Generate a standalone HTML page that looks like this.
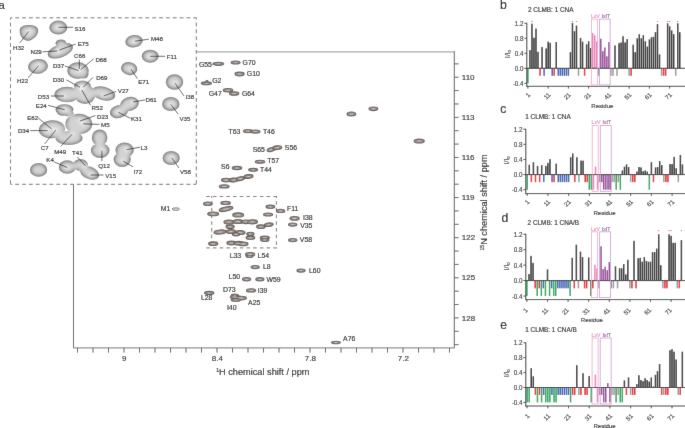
<!DOCTYPE html><html><head><meta charset="utf-8"><style>html,body{margin:0;padding:0;background:#fff;width:685px;height:428px;overflow:hidden}svg{display:block}text{font-family:"Liberation Sans", sans-serif;stroke-width:0.15px}</style></head><body>
<div id="w"><svg width="685" height="428" viewBox="0 0 685 428">
<defs>
<filter id="bl" x="-20%" y="-20%" width="140%" height="140%"><feGaussianBlur stdDeviation="0.6"/></filter>
<filter id="bl2" x="-50%" y="-50%" width="200%" height="200%"><feGaussianBlur stdDeviation="1.6"/></filter>
<filter id="shade" x="-10%" y="-10%" width="120%" height="120%" color-interpolation-filters="sRGB">
<feGaussianBlur in="SourceAlpha" stdDeviation="2.2" result="b"/>
<feColorMatrix in="b" type="matrix" values="0 0 0 0.62 0.21  0 0 0 0.62 0.205  0 0 0 0.62 0.205  0 0 0 0 1" result="g"/>
<feComposite in="g" in2="SourceAlpha" operator="in" result="c"/>
<feGaussianBlur in="c" stdDeviation="0.4"/>
</filter>
<filter id="gb" x="0" y="0" width="685" height="428" filterUnits="userSpaceOnUse"><feConvolveMatrix order="3" kernelMatrix="0.00524 0.06192 0.00524 0.06192 0.73137 0.06192 0.00524 0.06192 0.00524" edgeMode="duplicate"/></filter>
<filter id="bl3" x="-50%" y="-50%" width="200%" height="200%"><feGaussianBlur stdDeviation="0.35"/></filter>
</defs>
<g filter="url(#gb)"><rect width="685" height="428" fill="#fff"/>
<g stroke-width="1" fill="none">
<line x1="196.5" y1="51.9" x2="454.8" y2="51.9" stroke="#a8a8a8" stroke-width="1.3"/>
<line x1="454.3" y1="51.5" x2="454.3" y2="348" stroke="#5a5a5a"/>
<line x1="73.5" y1="184" x2="73.5" y2="348" stroke="#5a5a5a"/>
<line x1="73" y1="347.8" x2="454.8" y2="347.8" stroke="#909090" stroke-width="1.2"/>
<line x1="77.50" y1="348" x2="77.50" y2="352.6" stroke="#5a5a5a"/>
<line x1="93.00" y1="348" x2="93.00" y2="352.6" stroke="#5a5a5a"/>
<line x1="108.50" y1="348" x2="108.50" y2="352.6" stroke="#5a5a5a"/>
<line x1="124.00" y1="348" x2="124.00" y2="352.6" stroke="#5a5a5a"/>
<line x1="139.50" y1="348" x2="139.50" y2="352.6" stroke="#5a5a5a"/>
<line x1="155.00" y1="348" x2="155.00" y2="352.6" stroke="#5a5a5a"/>
<line x1="170.50" y1="348" x2="170.50" y2="352.6" stroke="#5a5a5a"/>
<line x1="186.00" y1="348" x2="186.00" y2="352.6" stroke="#5a5a5a"/>
<line x1="201.50" y1="348" x2="201.50" y2="352.6" stroke="#5a5a5a"/>
<line x1="217.00" y1="348" x2="217.00" y2="352.6" stroke="#5a5a5a"/>
<line x1="232.50" y1="348" x2="232.50" y2="352.6" stroke="#5a5a5a"/>
<line x1="248.00" y1="348" x2="248.00" y2="352.6" stroke="#5a5a5a"/>
<line x1="263.50" y1="348" x2="263.50" y2="352.6" stroke="#5a5a5a"/>
<line x1="279.00" y1="348" x2="279.00" y2="352.6" stroke="#5a5a5a"/>
<line x1="294.50" y1="348" x2="294.50" y2="352.6" stroke="#5a5a5a"/>
<line x1="310.00" y1="348" x2="310.00" y2="352.6" stroke="#5a5a5a"/>
<line x1="325.50" y1="348" x2="325.50" y2="352.6" stroke="#5a5a5a"/>
<line x1="341.00" y1="348" x2="341.00" y2="352.6" stroke="#5a5a5a"/>
<line x1="356.50" y1="348" x2="356.50" y2="352.6" stroke="#5a5a5a"/>
<line x1="372.00" y1="348" x2="372.00" y2="352.6" stroke="#5a5a5a"/>
<line x1="387.50" y1="348" x2="387.50" y2="352.6" stroke="#5a5a5a"/>
<line x1="403.00" y1="348" x2="403.00" y2="352.6" stroke="#5a5a5a"/>
<line x1="418.50" y1="348" x2="418.50" y2="352.6" stroke="#5a5a5a"/>
<line x1="434.00" y1="348" x2="434.00" y2="352.6" stroke="#5a5a5a"/>
<line x1="449.50" y1="348" x2="449.50" y2="352.6" stroke="#5a5a5a"/>
<line x1="454.3" y1="63.87" x2="458.6" y2="63.87" stroke="#5a5a5a"/>
<line x1="454.3" y1="77.24" x2="458.6" y2="77.24" stroke="#5a5a5a"/>
<line x1="454.3" y1="90.61" x2="458.6" y2="90.61" stroke="#5a5a5a"/>
<line x1="454.3" y1="103.98" x2="458.6" y2="103.98" stroke="#5a5a5a"/>
<line x1="454.3" y1="117.35" x2="458.6" y2="117.35" stroke="#5a5a5a"/>
<line x1="454.3" y1="130.72" x2="458.6" y2="130.72" stroke="#5a5a5a"/>
<line x1="454.3" y1="144.09" x2="458.6" y2="144.09" stroke="#5a5a5a"/>
<line x1="454.3" y1="157.46" x2="458.6" y2="157.46" stroke="#5a5a5a"/>
<line x1="454.3" y1="170.83" x2="458.6" y2="170.83" stroke="#5a5a5a"/>
<line x1="454.3" y1="184.20" x2="458.6" y2="184.20" stroke="#5a5a5a"/>
<line x1="454.3" y1="197.57" x2="458.6" y2="197.57" stroke="#5a5a5a"/>
<line x1="454.3" y1="210.94" x2="458.6" y2="210.94" stroke="#5a5a5a"/>
<line x1="454.3" y1="224.31" x2="458.6" y2="224.31" stroke="#5a5a5a"/>
<line x1="454.3" y1="237.68" x2="458.6" y2="237.68" stroke="#5a5a5a"/>
<line x1="454.3" y1="251.05" x2="458.6" y2="251.05" stroke="#5a5a5a"/>
<line x1="454.3" y1="264.42" x2="458.6" y2="264.42" stroke="#5a5a5a"/>
<line x1="454.3" y1="277.79" x2="458.6" y2="277.79" stroke="#5a5a5a"/>
<line x1="454.3" y1="291.16" x2="458.6" y2="291.16" stroke="#5a5a5a"/>
<line x1="454.3" y1="304.53" x2="458.6" y2="304.53" stroke="#5a5a5a"/>
<line x1="454.3" y1="317.90" x2="458.6" y2="317.90" stroke="#5a5a5a"/>
<line x1="454.3" y1="331.27" x2="458.6" y2="331.27" stroke="#5a5a5a"/>
<line x1="454.3" y1="344.64" x2="458.6" y2="344.64" stroke="#5a5a5a"/>
</g>
<g font-size="8" fill="#222" text-anchor="middle" stroke="#222">
<text x="124.2" y="361.4">9</text>
<text x="217.3" y="361.4">8.4</text>
<text x="310.3" y="361.4">7.8</text>
<text x="403.3" y="361.4">7.2</text>
</g>
<g font-size="8" fill="#222" stroke="#222">
<text x="461.8" y="79.84">110</text>
<text x="461.8" y="119.95">113</text>
<text x="461.8" y="160.06">116</text>
<text x="461.8" y="200.17">119</text>
<text x="461.8" y="240.28">122</text>
<text x="461.8" y="280.39">125</text>
<text x="461.8" y="320.50">128</text>
</g>
<text x="216.2" y="375.4" font-size="9.2" fill="#222" stroke="#222"><tspan font-size="5.2" dy="-3.4">1</tspan><tspan dy="3.4">H chemical shift / ppm</tspan></text>
<text transform="translate(487.2 250.6) rotate(-90)" font-size="9.2" fill="#222" stroke="#222"><tspan font-size="5.2" dy="-3.4">15</tspan><tspan dy="3.4">N chemical shift / ppm</tspan></text>
<g fill="none" stroke="#6a6a6a" stroke-width="0.95" stroke-dasharray="3.5 3.2">
<line x1="206.3" y1="196.5" x2="276.9" y2="196.5"/>
<line x1="206.3" y1="247.9" x2="276.9" y2="247.9"/>
<line x1="211.7" y1="196.0" x2="211.7" y2="248.4" stroke-dashoffset="1.5"/>
<line x1="276.4" y1="196.0" x2="276.4" y2="248.4" stroke-dashoffset="1.5"/>
</g>
<g>
<ellipse cx="218.4" cy="63.8" rx="5.30" ry="1.55" fill="#978e8a" stroke="#645c58" stroke-width="1.1"/>
<ellipse cx="235.6" cy="62.5" rx="4.50" ry="1.55" fill="#978e8a" stroke="#645c58" stroke-width="1.1"/>
<ellipse cx="239.6" cy="74.0" rx="4.60" ry="1.85" fill="#978e8a" stroke="#645c58" stroke-width="1.1"/>
<ellipse cx="206.4" cy="83.3" rx="5.10" ry="1.45" fill="#978e8a" stroke="#645c58" stroke-width="1.1"/>
<ellipse cx="206.9" cy="81.2" rx="1.00" ry="0.75" fill="#978e8a" stroke="#645c58" stroke-width="1.1"/>
<ellipse cx="228.0" cy="90.2" rx="4.80" ry="1.65" fill="#978e8a" stroke="#645c58" stroke-width="1.1"/>
<ellipse cx="234.1" cy="93.5" rx="4.70" ry="1.75" fill="#978e8a" stroke="#645c58" stroke-width="1.1"/>
<ellipse cx="248.0" cy="131.1" rx="4.60" ry="1.65" fill="#978e8a" stroke="#645c58" stroke-width="1.1"/>
<ellipse cx="255.4" cy="131.6" rx="4.60" ry="1.65" fill="#978e8a" stroke="#645c58" stroke-width="1.1"/>
<ellipse cx="351.4" cy="114.0" rx="4.40" ry="1.95" fill="#978e8a" stroke="#645c58" stroke-width="1.1"/>
<ellipse cx="373.4" cy="108.8" rx="4.40" ry="1.85" fill="#978e8a" stroke="#645c58" stroke-width="1.1"/>
<ellipse cx="419.2" cy="141.0" rx="5.10" ry="2.05" fill="#978e8a" stroke="#645c58" stroke-width="1.1"/>
<ellipse cx="271.0" cy="149.6" rx="4.00" ry="1.85" fill="#978e8a" stroke="#645c58" stroke-width="1.1" transform="rotate(-15 271.0 149.6)"/>
<ellipse cx="277.2" cy="147.7" rx="4.60" ry="1.85" fill="#978e8a" stroke="#645c58" stroke-width="1.1" transform="rotate(-5 277.2 147.7)"/>
<ellipse cx="260.0" cy="161.7" rx="4.80" ry="1.45" fill="#978e8a" stroke="#645c58" stroke-width="1.1"/>
<ellipse cx="237.0" cy="168.0" rx="4.80" ry="1.65" fill="#978e8a" stroke="#645c58" stroke-width="1.1"/>
<ellipse cx="253.1" cy="169.8" rx="4.50" ry="1.45" fill="#978e8a" stroke="#645c58" stroke-width="1.1"/>
<ellipse cx="226.0" cy="180.1" rx="4.60" ry="1.85" fill="#978e8a" stroke="#645c58" stroke-width="1.1"/>
<ellipse cx="233.9" cy="180.0" rx="4.60" ry="1.85" fill="#978e8a" stroke="#645c58" stroke-width="1.1" transform="rotate(-5 233.9 180.0)"/>
<ellipse cx="240.5" cy="178.6" rx="4.10" ry="1.85" fill="#978e8a" stroke="#645c58" stroke-width="1.1" transform="rotate(-10 240.5 178.6)"/>
<ellipse cx="248.5" cy="176.5" rx="4.60" ry="1.85" fill="#978e8a" stroke="#645c58" stroke-width="1.1" transform="rotate(-5 248.5 176.5)"/>
<ellipse cx="224.2" cy="186.4" rx="4.90" ry="1.65" fill="#978e8a" stroke="#645c58" stroke-width="1.1"/>
<ellipse cx="280.6" cy="210.9" rx="4.20" ry="1.65" fill="#978e8a" stroke="#645c58" stroke-width="1.1"/>
<ellipse cx="294.6" cy="218.4" rx="4.60" ry="1.85" fill="#978e8a" stroke="#645c58" stroke-width="1.1"/>
<ellipse cx="292.7" cy="224.6" rx="4.20" ry="1.65" fill="#978e8a" stroke="#645c58" stroke-width="1.1"/>
<ellipse cx="292.7" cy="240.1" rx="4.20" ry="1.65" fill="#978e8a" stroke="#645c58" stroke-width="1.1"/>
<ellipse cx="207.9" cy="203.8" rx="4.40" ry="1.75" fill="#978e8a" stroke="#645c58" stroke-width="1.1"/>
<ellipse cx="225.6" cy="202.9" rx="4.80" ry="1.65" fill="#978e8a" stroke="#645c58" stroke-width="1.1"/>
<ellipse cx="226.0" cy="209.0" rx="7.10" ry="2.05" fill="#978e8a" stroke="#645c58" stroke-width="1.1" transform="rotate(-12 226.0 209.0)"/>
<ellipse cx="270.4" cy="206.8" rx="4.40" ry="1.65" fill="#978e8a" stroke="#645c58" stroke-width="1.1"/>
<ellipse cx="213.2" cy="213.9" rx="5.50" ry="1.85" fill="#978e8a" stroke="#645c58" stroke-width="1.1"/>
<ellipse cx="238.2" cy="214.9" rx="5.50" ry="2.05" fill="#978e8a" stroke="#645c58" stroke-width="1.1"/>
<ellipse cx="268.1" cy="214.5" rx="4.60" ry="1.55" fill="#978e8a" stroke="#645c58" stroke-width="1.1"/>
<ellipse cx="229.0" cy="222.0" rx="5.10" ry="2.05" fill="#978e8a" stroke="#645c58" stroke-width="1.1"/>
<ellipse cx="238.0" cy="221.5" rx="5.10" ry="2.05" fill="#978e8a" stroke="#645c58" stroke-width="1.1"/>
<ellipse cx="246.0" cy="221.8" rx="4.60" ry="1.85" fill="#978e8a" stroke="#645c58" stroke-width="1.1"/>
<ellipse cx="252.4" cy="221.8" rx="5.10" ry="2.05" fill="#978e8a" stroke="#645c58" stroke-width="1.1"/>
<ellipse cx="260.9" cy="226.7" rx="4.30" ry="1.85" fill="#978e8a" stroke="#645c58" stroke-width="1.1"/>
<ellipse cx="268.7" cy="224.7" rx="4.40" ry="1.75" fill="#978e8a" stroke="#645c58" stroke-width="1.1" transform="rotate(-5 268.7 224.7)"/>
<ellipse cx="230.1" cy="226.7" rx="4.10" ry="1.85" fill="#978e8a" stroke="#645c58" stroke-width="1.1"/>
<ellipse cx="220.0" cy="232.0" rx="6.10" ry="2.05" fill="#978e8a" stroke="#645c58" stroke-width="1.1" transform="rotate(-5 220.0 232.0)"/>
<ellipse cx="231.0" cy="231.5" rx="4.60" ry="2.05" fill="#978e8a" stroke="#645c58" stroke-width="1.1"/>
<ellipse cx="240.0" cy="232.5" rx="5.10" ry="2.05" fill="#978e8a" stroke="#645c58" stroke-width="1.1"/>
<ellipse cx="236.0" cy="234.2" rx="3.60" ry="1.65" fill="#978e8a" stroke="#645c58" stroke-width="1.1"/>
<ellipse cx="250.4" cy="233.9" rx="3.60" ry="1.65" fill="#978e8a" stroke="#645c58" stroke-width="1.1"/>
<ellipse cx="250.4" cy="237.8" rx="4.40" ry="1.65" fill="#978e8a" stroke="#645c58" stroke-width="1.1"/>
<ellipse cx="264.8" cy="237.8" rx="4.60" ry="1.65" fill="#978e8a" stroke="#645c58" stroke-width="1.1"/>
<ellipse cx="264.8" cy="240.0" rx="4.10" ry="1.45" fill="#978e8a" stroke="#645c58" stroke-width="1.1"/>
<ellipse cx="213.2" cy="243.7" rx="4.60" ry="1.85" fill="#978e8a" stroke="#645c58" stroke-width="1.1"/>
<ellipse cx="231.5" cy="243.0" rx="4.60" ry="1.85" fill="#978e8a" stroke="#645c58" stroke-width="1.1"/>
<ellipse cx="238.5" cy="243.2" rx="4.60" ry="1.85" fill="#978e8a" stroke="#645c58" stroke-width="1.1"/>
<ellipse cx="243.2" cy="243.9" rx="4.80" ry="1.85" fill="#978e8a" stroke="#645c58" stroke-width="1.1"/>
<ellipse cx="250.1" cy="254.4" rx="4.60" ry="1.85" fill="#978e8a" stroke="#645c58" stroke-width="1.1"/>
<ellipse cx="249.5" cy="256.2" rx="3.40" ry="1.25" fill="#978e8a" stroke="#645c58" stroke-width="1.1"/>
<ellipse cx="255.2" cy="267.1" rx="4.10" ry="1.65" fill="#978e8a" stroke="#645c58" stroke-width="1.1"/>
<ellipse cx="301.0" cy="270.6" rx="4.10" ry="1.65" fill="#978e8a" stroke="#645c58" stroke-width="1.1"/>
<ellipse cx="246.6" cy="279.2" rx="4.10" ry="1.65" fill="#978e8a" stroke="#645c58" stroke-width="1.1"/>
<ellipse cx="259.9" cy="279.2" rx="4.10" ry="1.65" fill="#978e8a" stroke="#645c58" stroke-width="1.1"/>
<ellipse cx="251.1" cy="290.4" rx="4.70" ry="1.65" fill="#978e8a" stroke="#645c58" stroke-width="1.1"/>
<ellipse cx="209.2" cy="292.9" rx="4.70" ry="1.55" fill="#978e8a" stroke="#645c58" stroke-width="1.1"/>
<ellipse cx="234.8" cy="295.3" rx="3.60" ry="1.35" fill="#978e8a" stroke="#645c58" stroke-width="1.1"/>
<ellipse cx="235.3" cy="297.1" rx="5.10" ry="1.65" fill="#978e8a" stroke="#645c58" stroke-width="1.1"/>
<ellipse cx="240.9" cy="298.1" rx="5.60" ry="1.85" fill="#978e8a" stroke="#645c58" stroke-width="1.1"/>
<ellipse cx="235.8" cy="299.9" rx="4.60" ry="1.35" fill="#978e8a" stroke="#645c58" stroke-width="1.1"/>
<ellipse cx="335.9" cy="342.5" rx="4.50" ry="1.25" fill="#978e8a" stroke="#645c58" stroke-width="1.1"/>
</g>
<g>
<ellipse cx="218.4" cy="63.8" rx="2.28" ry="0.48" fill="#cfc8c5"/>
<ellipse cx="235.6" cy="62.5" rx="1.96" ry="0.48" fill="#cfc8c5"/>
<ellipse cx="239.6" cy="74.0" rx="2.00" ry="0.56" fill="#cfc8c5"/>
<ellipse cx="206.4" cy="83.3" rx="2.20" ry="0.45" fill="#cfc8c5"/>
<ellipse cx="206.9" cy="81.2" rx="0.56" ry="0.40" fill="#cfc8c5"/>
<ellipse cx="228.0" cy="90.2" rx="2.08" ry="0.50" fill="#cfc8c5"/>
<ellipse cx="234.1" cy="93.5" rx="2.04" ry="0.53" fill="#cfc8c5"/>
<ellipse cx="248.0" cy="131.1" rx="2.00" ry="0.50" fill="#cfc8c5"/>
<ellipse cx="255.4" cy="131.6" rx="2.00" ry="0.50" fill="#cfc8c5"/>
<ellipse cx="351.4" cy="114.0" rx="1.92" ry="0.59" fill="#cfc8c5"/>
<ellipse cx="373.4" cy="108.8" rx="1.92" ry="0.56" fill="#cfc8c5"/>
<ellipse cx="419.2" cy="141.0" rx="2.20" ry="0.62" fill="#cfc8c5"/>
<ellipse cx="271.0" cy="149.6" rx="1.76" ry="0.56" fill="#cfc8c5" transform="rotate(-15 271.0 149.6)"/>
<ellipse cx="277.2" cy="147.7" rx="2.00" ry="0.56" fill="#cfc8c5" transform="rotate(-5 277.2 147.7)"/>
<ellipse cx="260.0" cy="161.7" rx="2.08" ry="0.45" fill="#cfc8c5"/>
<ellipse cx="237.0" cy="168.0" rx="2.08" ry="0.50" fill="#cfc8c5"/>
<ellipse cx="253.1" cy="169.8" rx="1.96" ry="0.45" fill="#cfc8c5"/>
<ellipse cx="226.0" cy="180.1" rx="2.00" ry="0.56" fill="#cfc8c5"/>
<ellipse cx="233.9" cy="180.0" rx="2.00" ry="0.56" fill="#cfc8c5" transform="rotate(-5 233.9 180.0)"/>
<ellipse cx="240.5" cy="178.6" rx="1.80" ry="0.56" fill="#cfc8c5" transform="rotate(-10 240.5 178.6)"/>
<ellipse cx="248.5" cy="176.5" rx="2.00" ry="0.56" fill="#cfc8c5" transform="rotate(-5 248.5 176.5)"/>
<ellipse cx="224.2" cy="186.4" rx="2.12" ry="0.50" fill="#cfc8c5"/>
<ellipse cx="280.6" cy="210.9" rx="1.84" ry="0.50" fill="#cfc8c5"/>
<ellipse cx="294.6" cy="218.4" rx="2.00" ry="0.56" fill="#cfc8c5"/>
<ellipse cx="292.7" cy="224.6" rx="1.84" ry="0.50" fill="#cfc8c5"/>
<ellipse cx="292.7" cy="240.1" rx="1.84" ry="0.50" fill="#cfc8c5"/>
<ellipse cx="207.9" cy="203.8" rx="1.92" ry="0.53" fill="#cfc8c5"/>
<ellipse cx="225.6" cy="202.9" rx="2.08" ry="0.50" fill="#cfc8c5"/>
<ellipse cx="226.0" cy="209.0" rx="3.00" ry="0.62" fill="#cfc8c5" transform="rotate(-12 226.0 209.0)"/>
<ellipse cx="270.4" cy="206.8" rx="1.92" ry="0.50" fill="#cfc8c5"/>
<ellipse cx="213.2" cy="213.9" rx="2.36" ry="0.56" fill="#cfc8c5"/>
<ellipse cx="238.2" cy="214.9" rx="2.36" ry="0.62" fill="#cfc8c5"/>
<ellipse cx="268.1" cy="214.5" rx="2.00" ry="0.48" fill="#cfc8c5"/>
<ellipse cx="229.0" cy="222.0" rx="2.20" ry="0.62" fill="#cfc8c5"/>
<ellipse cx="238.0" cy="221.5" rx="2.20" ry="0.62" fill="#cfc8c5"/>
<ellipse cx="246.0" cy="221.8" rx="2.00" ry="0.56" fill="#cfc8c5"/>
<ellipse cx="252.4" cy="221.8" rx="2.20" ry="0.62" fill="#cfc8c5"/>
<ellipse cx="260.9" cy="226.7" rx="1.88" ry="0.56" fill="#cfc8c5"/>
<ellipse cx="268.7" cy="224.7" rx="1.92" ry="0.53" fill="#cfc8c5" transform="rotate(-5 268.7 224.7)"/>
<ellipse cx="230.1" cy="226.7" rx="1.80" ry="0.56" fill="#cfc8c5"/>
<ellipse cx="220.0" cy="232.0" rx="2.60" ry="0.62" fill="#cfc8c5" transform="rotate(-5 220.0 232.0)"/>
<ellipse cx="231.0" cy="231.5" rx="2.00" ry="0.62" fill="#cfc8c5"/>
<ellipse cx="240.0" cy="232.5" rx="2.20" ry="0.62" fill="#cfc8c5"/>
<ellipse cx="236.0" cy="234.2" rx="1.60" ry="0.50" fill="#cfc8c5"/>
<ellipse cx="250.4" cy="233.9" rx="1.60" ry="0.50" fill="#cfc8c5"/>
<ellipse cx="250.4" cy="237.8" rx="1.92" ry="0.50" fill="#cfc8c5"/>
<ellipse cx="264.8" cy="237.8" rx="2.00" ry="0.50" fill="#cfc8c5"/>
<ellipse cx="264.8" cy="240.0" rx="1.80" ry="0.45" fill="#cfc8c5"/>
<ellipse cx="213.2" cy="243.7" rx="2.00" ry="0.56" fill="#cfc8c5"/>
<ellipse cx="231.5" cy="243.0" rx="2.00" ry="0.56" fill="#cfc8c5"/>
<ellipse cx="238.5" cy="243.2" rx="2.00" ry="0.56" fill="#cfc8c5"/>
<ellipse cx="243.2" cy="243.9" rx="2.08" ry="0.56" fill="#cfc8c5"/>
<ellipse cx="250.1" cy="254.4" rx="2.00" ry="0.56" fill="#cfc8c5"/>
<ellipse cx="249.5" cy="256.2" rx="1.52" ry="0.40" fill="#cfc8c5"/>
<ellipse cx="255.2" cy="267.1" rx="1.80" ry="0.50" fill="#cfc8c5"/>
<ellipse cx="301.0" cy="270.6" rx="1.80" ry="0.50" fill="#cfc8c5"/>
<ellipse cx="246.6" cy="279.2" rx="1.80" ry="0.50" fill="#cfc8c5"/>
<ellipse cx="259.9" cy="279.2" rx="1.80" ry="0.50" fill="#cfc8c5"/>
<ellipse cx="251.1" cy="290.4" rx="2.04" ry="0.50" fill="#cfc8c5"/>
<ellipse cx="209.2" cy="292.9" rx="2.04" ry="0.48" fill="#cfc8c5"/>
<ellipse cx="234.8" cy="295.3" rx="1.60" ry="0.42" fill="#cfc8c5"/>
<ellipse cx="235.3" cy="297.1" rx="2.20" ry="0.50" fill="#cfc8c5"/>
<ellipse cx="240.9" cy="298.1" rx="2.40" ry="0.56" fill="#cfc8c5"/>
<ellipse cx="235.8" cy="299.9" rx="2.00" ry="0.42" fill="#cfc8c5"/>
<ellipse cx="335.9" cy="342.5" rx="1.96" ry="0.40" fill="#cfc8c5"/>
</g>
<ellipse cx="175.8" cy="209.1" rx="3.70" ry="1.20" fill="#f2f0ef" stroke="#6f6865" stroke-width="0.95"/>
<g font-size="6.9" fill="#1a1a1a" stroke="#1a1a1a">
<text x="198.9" y="66.7">G55</text>
<text x="242.6" y="64.6">G70</text>
<text x="246.8" y="76.3">G10</text>
<text x="212.2" y="83.3">G2</text>
<text x="208.7" y="95.9">G47</text>
<text x="241.9" y="95.7">G64</text>
<text x="228.5" y="133.5">T63</text>
<text x="262.9" y="133.5">T46</text>
<text x="252.7" y="151.8">S65</text>
<text x="284.8" y="150.4">S56</text>
<text x="267.3" y="163.2">T57</text>
<text x="221.1" y="169.1">S6</text>
<text x="260.0" y="171.5">T44</text>
<text x="160.8" y="211.4">M1</text>
<text x="287.1" y="211.4">F11</text>
<text x="303.0" y="219.8">I38</text>
<text x="300.2" y="227.9">V35</text>
<text x="299.8" y="242.2">V58</text>
<text x="229.7" y="258.2">L33</text>
<text x="257.6" y="257.6">L54</text>
<text x="263.0" y="269.3">L8</text>
<text x="309.0" y="272.8">L60</text>
<text x="228.6" y="279.1">L50</text>
<text x="266.4" y="281.7">W59</text>
<text x="223.0" y="292.1">D73</text>
<text x="257.8" y="292.6">I39</text>
<text x="200.9" y="299.9">L28</text>
<text x="248.1" y="304.6">A25</text>
<text x="226.9" y="309.7">I40</text>
<text x="343.1" y="341.1">A76</text>
</g>
<line x1="211.8" y1="64.2" x2="214" y2="64" stroke="#555" stroke-width="0.6"/>
<rect x="10.5" y="17.8" width="185.8" height="166.5" fill="#fff"/>
<g fill="none" stroke="#6a6a6a" stroke-width="0.95" stroke-dasharray="3.8 3.05" stroke-dashoffset="2.1">
<line x1="10.5" y1="17.8" x2="196.3" y2="17.8"/>
<line x1="10.5" y1="17.8" x2="10.5" y2="184.3"/>
<line x1="196.3" y1="17.8" x2="196.3" y2="184.3"/>
<line x1="10.5" y1="184.3" x2="196.3" y2="184.3"/>
</g>
<g filter="url(#shade)">
<path d="M19.8,29.5 C20.2,26.2 24.8,25 29,25 C34,25 38,26.5 38.2,30.5 C38.3,34.8 34,39.2 29.5,40.7 C25.5,41.6 21.4,38.2 20.1,34.2 C19.6,32.5 19.6,31 19.8,29.5 Z" fill="#000" />
<ellipse cx="58.3" cy="27.6" rx="9.0" ry="7.0" fill="#000" />
<ellipse cx="60.3" cy="50.8" rx="13.2" ry="6.6" fill="#000" transform="rotate(-21 60.3 50.8)" />
<ellipse cx="61.0" cy="43.3" rx="5.4" ry="3.9" fill="#000" />
<ellipse cx="38.0" cy="66.4" rx="10.0" ry="7.4" fill="#000" transform="rotate(-8 38.0 66.4)" />
<ellipse cx="78.0" cy="70.6" rx="10.8" ry="8.4" fill="#000" />
<ellipse cx="83.5" cy="74.0" rx="5.0" ry="4.5" fill="#000" />
<ellipse cx="67.0" cy="94.5" rx="12.5" ry="7.8" fill="#000" />
<ellipse cx="82.5" cy="86.2" rx="8.5" ry="5.6" fill="#000" />
<ellipse cx="85.0" cy="94.5" rx="10.5" ry="9.6" fill="#000" />
<ellipse cx="103.5" cy="93.5" rx="12.0" ry="6.8" fill="#000" transform="rotate(15 103.5 93.5)" />
<ellipse cx="64.5" cy="109.6" rx="9.0" ry="5.6" fill="#000" />
<ellipse cx="63.0" cy="112.0" rx="6.0" ry="3.8" fill="#000" />
<ellipse cx="68.5" cy="113.2" rx="5.0" ry="3.2" fill="#000" />
<ellipse cx="52.0" cy="129.3" rx="13.2" ry="9.0" fill="#000" transform="rotate(-5 52.0 129.3)" />
<ellipse cx="78.8" cy="124.0" rx="13.5" ry="10.3" fill="#000" />
<ellipse cx="69.0" cy="138.0" rx="13.5" ry="7.0" fill="#000" />
<ellipse cx="119.0" cy="111.5" rx="9.3" ry="6.5" fill="#000" transform="rotate(-15 119.0 111.5)" />
<ellipse cx="129.5" cy="104.0" rx="9.5" ry="7.0" fill="#000" transform="rotate(-15 129.5 104.0)" />
<ellipse cx="174.5" cy="82.0" rx="8.7" ry="7.7" fill="#000" />
<ellipse cx="170.8" cy="104.0" rx="8.7" ry="7.0" fill="#000" />
<ellipse cx="134.0" cy="41.2" rx="8.7" ry="6.2" fill="#000" transform="rotate(-8 134.0 41.2)" />
<ellipse cx="150.2" cy="56.2" rx="8.4" ry="6.5" fill="#000" />
<ellipse cx="129.2" cy="68.6" rx="8.2" ry="6.5" fill="#000" transform="rotate(10 129.2 68.6)" />
<ellipse cx="99.6" cy="137.6" rx="7.8" ry="8.2" fill="#000" />
<ellipse cx="100.2" cy="150.5" rx="9.3" ry="7.6" fill="#000" />
<ellipse cx="124.6" cy="150.0" rx="9.2" ry="7.6" fill="#000" />
<ellipse cx="122.2" cy="159.6" rx="8.6" ry="7.4" fill="#000" />
<ellipse cx="171.2" cy="158.0" rx="8.6" ry="7.0" fill="#000" />
<ellipse cx="38.6" cy="169.9" rx="8.6" ry="6.8" fill="#000" />
<ellipse cx="67.3" cy="167.0" rx="8.5" ry="6.8" fill="#000" />
<ellipse cx="80.5" cy="165.0" rx="7.5" ry="6.0" fill="#000" />
<ellipse cx="89.5" cy="172.8" rx="10.2" ry="6.2" fill="#000" transform="rotate(22 89.5 172.8)" />
</g>
<g filter="url(#bl2)" fill="#fff" opacity="0.9">
<circle cx="28.8" cy="31.4" r="1.8"/>
<circle cx="58.3" cy="27.3" r="1.8"/>
<circle cx="59.0" cy="50.2" r="1.8"/>
<circle cx="57.5" cy="51.0" r="1.8"/>
<circle cx="79.3" cy="69.0" r="1.8"/>
<circle cx="80.6" cy="69.8" r="1.8"/>
<circle cx="78.7" cy="70.6" r="1.8"/>
<circle cx="38.6" cy="65.7" r="1.8"/>
<circle cx="80.0" cy="87.3" r="1.8"/>
<circle cx="83.1" cy="87.3" r="1.8"/>
<circle cx="134.9" cy="41.2" r="1.8"/>
<circle cx="150.0" cy="56.3" r="1.8"/>
<circle cx="130.8" cy="69.0" r="1.8"/>
<circle cx="175.0" cy="83.2" r="1.8"/>
<circle cx="64.0" cy="96.0" r="1.8"/>
<circle cx="103.5" cy="96.0" r="1.8"/>
<circle cx="133.0" cy="102.0" r="1.8"/>
<circle cx="81.8" cy="90.0" r="1.8"/>
<circle cx="64.8" cy="109.8" r="1.8"/>
<circle cx="170.9" cy="104.5" r="1.8"/>
<circle cx="79.8" cy="121.1" r="1.8"/>
<circle cx="118.3" cy="112.3" r="1.8"/>
<circle cx="51.7" cy="129.0" r="1.8"/>
<circle cx="83.1" cy="123.8" r="1.8"/>
<circle cx="47.6" cy="130.6" r="1.8"/>
<circle cx="55.8" cy="130.0" r="1.8"/>
<circle cx="126.5" cy="149.6" r="1.8"/>
<circle cx="72.2" cy="134.1" r="1.8"/>
<circle cx="85.5" cy="166.0" r="1.8"/>
<circle cx="67.3" cy="167.6" r="1.8"/>
<circle cx="101.9" cy="150.5" r="1.8"/>
<circle cx="123.2" cy="161.1" r="1.8"/>
<circle cx="171.7" cy="157.8" r="1.8"/>
<circle cx="90.5" cy="175.0" r="1.8"/>
</g>
<g stroke="#2a2a2a" stroke-width="0.72">
<line x1="19.8" y1="42.8" x2="28.8" y2="31.4"/>
<line x1="58.3" y1="27.3" x2="73.2" y2="27.3"/>
<line x1="59.0" y1="50.2" x2="75.6" y2="44.1"/>
<line x1="42.7" y1="51.8" x2="57.5" y2="51.0"/>
<line x1="79.3" y1="59.6" x2="79.3" y2="69.0"/>
<line x1="93.7" y1="58.8" x2="80.6" y2="69.8"/>
<line x1="64.8" y1="66.0" x2="78.7" y2="70.6"/>
<line x1="28.0" y1="78.0" x2="38.6" y2="65.7"/>
<line x1="66.4" y1="79.9" x2="80.0" y2="87.3"/>
<line x1="92.9" y1="77.5" x2="83.1" y2="87.3"/>
<line x1="134.9" y1="41.2" x2="148.8" y2="39.2"/>
<line x1="150.0" y1="56.3" x2="165.2" y2="56.3"/>
<line x1="130.8" y1="69.0" x2="137.4" y2="78.5"/>
<line x1="175.0" y1="83.2" x2="184.0" y2="96.0"/>
<line x1="50.9" y1="96.0" x2="64.0" y2="96.0"/>
<line x1="103.5" y1="96.0" x2="116.1" y2="91.4"/>
<line x1="133.0" y1="102.0" x2="145.0" y2="99.9"/>
<line x1="81.8" y1="90.0" x2="90.5" y2="105.3"/>
<line x1="48.0" y1="105.3" x2="64.8" y2="109.8"/>
<line x1="170.9" y1="104.5" x2="178.3" y2="114.3"/>
<line x1="79.8" y1="121.1" x2="95.4" y2="115.6"/>
<line x1="118.3" y1="112.3" x2="130.6" y2="118.4"/>
<line x1="38.1" y1="117.9" x2="51.7" y2="129.0"/>
<line x1="83.1" y1="123.8" x2="99.5" y2="124.4"/>
<line x1="30.0" y1="130.6" x2="47.6" y2="130.6"/>
<line x1="44.7" y1="143.9" x2="55.8" y2="130.0"/>
<line x1="126.5" y1="149.6" x2="140.0" y2="147.2"/>
<line x1="60.7" y1="146.4" x2="72.2" y2="134.1"/>
<line x1="77.4" y1="157.0" x2="85.5" y2="166.0"/>
<line x1="54.2" y1="161.9" x2="67.3" y2="167.6"/>
<line x1="101.9" y1="150.5" x2="101.9" y2="161.1"/>
<line x1="123.2" y1="161.1" x2="133.0" y2="166.8"/>
<line x1="171.7" y1="157.8" x2="179.0" y2="168.0"/>
<line x1="90.5" y1="175.0" x2="103.5" y2="175.0"/>
</g>
<g font-size="6.15" fill="#222" stroke="#222">
<text x="13.0" y="50.0">H32</text>
<text x="74.6" y="30.6">S16</text>
<text x="77.7" y="45.6">E75</text>
<text x="30.5" y="54.1">N29</text>
<text x="74.1" y="58.2">C66</text>
<text x="95.4" y="62.0">D68</text>
<text x="52.9" y="68.1">D37</text>
<text x="16.9" y="83.3">H22</text>
<text x="52.9" y="82.3">D30</text>
<text x="96.2" y="79.5">D69</text>
<text x="151.0" y="41.1">M48</text>
<text x="166.8" y="59.4">F11</text>
<text x="138.2" y="84.4">E71</text>
<text x="185.6" y="98.6">I38</text>
<text x="37.8" y="98.6">D53</text>
<text x="117.8" y="92.7">V27</text>
<text x="145.5" y="102.4">D61</text>
<text x="91.6" y="109.6">R52</text>
<text x="35.8" y="108.1">E24</text>
<text x="179.4" y="121.0">V35</text>
<text x="97.0" y="118.9">D23</text>
<text x="131.0" y="121.0">K31</text>
<text x="27.2" y="120.4">E62</text>
<text x="101.1" y="127.4">M5</text>
<text x="17.9" y="133.1">D34</text>
<text x="40.8" y="149.9">C7</text>
<text x="140.6" y="149.9">L3</text>
<text x="54.2" y="154.1">M49</text>
<text x="72.0" y="155.0">T41</text>
<text x="46.3" y="161.8">K4</text>
<text x="98.2" y="167.9">Q12</text>
<text x="133.6" y="173.8">I72</text>
<text x="179.9" y="174.1">V58</text>
<text x="105.2" y="178.1">V15</text>
</g>
<text x="-1.5" y="9.3" font-size="11.3" fill="#111" stroke="#111">a</text>
<text x="500.0" y="9.1" font-size="12.2" fill="#111" stroke="#111">b</text>
<text x="528.0" y="11.9" font-size="6.4" fill="#222" stroke="#222">2 CLMB: 1 CNA</text>
<rect x="527.15" y="68.30" width="1.5" height="15.00" fill="#27a557"/>
<rect x="529.17" y="50.11" width="1.5" height="18.19" fill="#303030"/>
<rect x="531.20" y="23.67" width="1.5" height="44.62" fill="#303030"/>
<rect x="531.35" y="20.95" width="1.2" height="1.1" fill="#e83a3a" opacity="0.8"/>
<rect x="533.23" y="37.74" width="1.5" height="30.56" fill="#303030"/>
<rect x="535.25" y="28.55" width="1.5" height="39.75" fill="#303030"/>
<rect x="537.27" y="51.80" width="1.5" height="16.50" fill="#303030"/>
<rect x="539.30" y="68.30" width="1.5" height="7.50" fill="#e8232e"/>
<rect x="541.32" y="46.92" width="1.5" height="21.37" fill="#303030"/>
<rect x="543.35" y="68.30" width="1.5" height="7.50" fill="#3d62b6"/>
<rect x="545.38" y="48.42" width="1.5" height="19.88" fill="#303030"/>
<rect x="547.40" y="41.67" width="1.5" height="26.62" fill="#303030"/>
<rect x="549.42" y="42.80" width="1.5" height="25.50" fill="#303030"/>
<rect x="551.45" y="68.30" width="1.5" height="7.50" fill="#3d62b6"/>
<rect x="553.48" y="68.30" width="1.5" height="7.50" fill="#e8232e"/>
<rect x="555.50" y="42.05" width="1.5" height="26.25" fill="#303030"/>
<rect x="557.52" y="68.30" width="1.5" height="7.50" fill="#3d62b6"/>
<rect x="559.55" y="68.30" width="1.5" height="7.50" fill="#3d62b6"/>
<rect x="561.57" y="68.30" width="1.5" height="7.50" fill="#3d62b6"/>
<rect x="563.60" y="68.30" width="1.5" height="7.50" fill="#3d62b6"/>
<rect x="565.62" y="68.30" width="1.5" height="7.50" fill="#3d62b6"/>
<rect x="567.65" y="68.30" width="1.5" height="7.50" fill="#3d62b6"/>
<rect x="569.67" y="52.17" width="1.5" height="16.12" fill="#303030"/>
<rect x="571.70" y="22.92" width="1.5" height="45.38" fill="#303030"/>
<rect x="571.85" y="20.95" width="1.2" height="1.1" fill="#e83a3a" opacity="0.8"/>
<rect x="573.73" y="31.17" width="1.5" height="37.12" fill="#303030"/>
<rect x="575.75" y="25.55" width="1.5" height="42.75" fill="#303030"/>
<rect x="575.90" y="20.95" width="1.2" height="1.1" fill="#e83a3a" opacity="0.8"/>
<rect x="577.77" y="68.30" width="1.5" height="7.50" fill="#9a9a9a"/>
<rect x="579.80" y="37.92" width="1.5" height="30.38" fill="#303030"/>
<rect x="581.82" y="41.67" width="1.5" height="26.62" fill="#303030"/>
<rect x="583.85" y="68.30" width="1.5" height="7.50" fill="#e8232e"/>
<rect x="585.88" y="44.30" width="1.5" height="24.00" fill="#303030"/>
<rect x="587.90" y="41.30" width="1.5" height="27.00" fill="#303030"/>
<rect x="589.92" y="48.05" width="1.5" height="20.25" fill="#303030"/>
<rect x="591.95" y="33.05" width="1.5" height="35.25" fill="#ea80b8"/>
<rect x="593.98" y="35.11" width="1.5" height="33.19" fill="#ea80b8"/>
<rect x="596.00" y="41.30" width="1.5" height="27.00" fill="#ea80b8"/>
<rect x="598.02" y="68.30" width="1.5" height="7.50" fill="#9a9a9a"/>
<rect x="600.05" y="38.67" width="1.5" height="29.62" fill="#964a9a"/>
<rect x="602.07" y="51.05" width="1.5" height="17.25" fill="#964a9a"/>
<rect x="604.10" y="47.49" width="1.5" height="20.81" fill="#964a9a"/>
<rect x="606.12" y="56.30" width="1.5" height="12.00" fill="#964a9a"/>
<rect x="608.15" y="42.05" width="1.5" height="26.25" fill="#964a9a"/>
<rect x="610.17" y="68.30" width="1.5" height="7.50" fill="#9a9a9a"/>
<rect x="612.20" y="68.30" width="1.5" height="7.50" fill="#9a9a9a"/>
<rect x="614.23" y="45.42" width="1.5" height="22.88" fill="#303030"/>
<rect x="616.25" y="68.30" width="1.5" height="7.50" fill="#9a9a9a"/>
<rect x="618.27" y="43.17" width="1.5" height="25.12" fill="#303030"/>
<rect x="620.30" y="42.42" width="1.5" height="25.87" fill="#303030"/>
<rect x="622.32" y="36.24" width="1.5" height="32.06" fill="#303030"/>
<rect x="624.35" y="42.42" width="1.5" height="25.87" fill="#303030"/>
<rect x="626.38" y="39.05" width="1.5" height="29.25" fill="#303030"/>
<rect x="628.40" y="68.30" width="1.5" height="7.50" fill="#9a9a9a"/>
<rect x="630.42" y="68.30" width="1.5" height="7.50" fill="#e8232e"/>
<rect x="632.45" y="44.67" width="1.5" height="23.62" fill="#303030"/>
<rect x="634.47" y="52.17" width="1.5" height="16.12" fill="#303030"/>
<rect x="636.50" y="38.30" width="1.5" height="30.00" fill="#303030"/>
<rect x="638.52" y="34.17" width="1.5" height="34.12" fill="#303030"/>
<rect x="640.55" y="38.30" width="1.5" height="30.00" fill="#303030"/>
<rect x="642.57" y="35.11" width="1.5" height="33.19" fill="#303030"/>
<rect x="644.60" y="41.30" width="1.5" height="27.00" fill="#303030"/>
<rect x="646.62" y="46.55" width="1.5" height="21.75" fill="#303030"/>
<rect x="648.65" y="39.42" width="1.5" height="28.88" fill="#303030"/>
<rect x="650.67" y="37.17" width="1.5" height="31.12" fill="#303030"/>
<rect x="652.70" y="36.80" width="1.5" height="31.50" fill="#303030"/>
<rect x="654.72" y="32.11" width="1.5" height="36.19" fill="#303030"/>
<rect x="656.75" y="24.05" width="1.5" height="44.25" fill="#303030"/>
<rect x="656.90" y="20.95" width="1.2" height="1.1" fill="#e83a3a" opacity="0.8"/>
<rect x="658.77" y="54.42" width="1.5" height="13.88" fill="#303030"/>
<rect x="660.80" y="68.30" width="1.5" height="7.50" fill="#9a9a9a"/>
<rect x="662.82" y="68.30" width="1.5" height="7.50" fill="#e8232e"/>
<rect x="664.85" y="68.30" width="1.5" height="7.50" fill="#e8232e"/>
<rect x="666.88" y="23.30" width="1.5" height="45.00" fill="#303030"/>
<rect x="667.02" y="20.95" width="1.2" height="1.1" fill="#e83a3a" opacity="0.8"/>
<rect x="668.90" y="26.30" width="1.5" height="42.00" fill="#303030"/>
<rect x="669.05" y="20.95" width="1.2" height="1.1" fill="#e83a3a" opacity="0.8"/>
<rect x="670.92" y="30.42" width="1.5" height="37.88" fill="#303030"/>
<rect x="672.95" y="34.17" width="1.5" height="34.12" fill="#303030"/>
<rect x="674.97" y="68.30" width="1.5" height="7.50" fill="#9a9a9a"/>
<rect x="677.00" y="23.30" width="1.5" height="45.00" fill="#303030"/>
<rect x="677.15" y="20.95" width="1.2" height="1.1" fill="#e83a3a" opacity="0.8"/>
<rect x="679.02" y="32.11" width="1.5" height="36.19" fill="#303030"/>
<line x1="526.8" y1="22.80" x2="526.8" y2="86.80" stroke="#333" stroke-width="1"/>
<line x1="526.3" y1="68.30" x2="685" y2="68.30" stroke="#333" stroke-width="1"/>
<line x1="526.3" y1="86.30" x2="685" y2="86.30" stroke="#444" stroke-width="1"/>
<line x1="524.4" y1="23.30" x2="526.8" y2="23.30" stroke="#333" stroke-width="0.9"/>
<text x="523.5" y="25.80" font-size="6.3" fill="#333" text-anchor="end" stroke="#333">1.2</text>
<line x1="524.4" y1="38.30" x2="526.8" y2="38.30" stroke="#333" stroke-width="0.9"/>
<text x="523.5" y="40.80" font-size="6.3" fill="#333" text-anchor="end" stroke="#333">0.8</text>
<line x1="524.4" y1="53.30" x2="526.8" y2="53.30" stroke="#333" stroke-width="0.9"/>
<text x="523.5" y="55.80" font-size="6.3" fill="#333" text-anchor="end" stroke="#333">0.4</text>
<line x1="524.4" y1="68.30" x2="526.8" y2="68.30" stroke="#333" stroke-width="0.9"/>
<text x="523.5" y="70.80" font-size="6.3" fill="#333" text-anchor="end" stroke="#333">0.0</text>
<line x1="524.4" y1="83.30" x2="526.8" y2="83.30" stroke="#333" stroke-width="0.9"/>
<text x="523.5" y="85.80" font-size="6.3" fill="#333" text-anchor="end" stroke="#333">-0.4</text>
<text transform="translate(510.20 57.90) rotate(-90)" font-size="6.5" fill="#333" stroke="#333">I/I<tspan font-size="4.3" dy="0.7">0</tspan></text>
<line x1="527.90" y1="86.30" x2="527.90" y2="88.60" stroke="#333" stroke-width="0.9"/>
<text transform="translate(530.70 95.20) rotate(-45)" font-size="6.2" fill="#333" text-anchor="end" stroke="#333">1</text>
<line x1="548.15" y1="86.30" x2="548.15" y2="88.60" stroke="#333" stroke-width="0.9"/>
<text transform="translate(550.95 95.20) rotate(-45)" font-size="6.2" fill="#333" text-anchor="end" stroke="#333">11</text>
<line x1="568.40" y1="86.30" x2="568.40" y2="88.60" stroke="#333" stroke-width="0.9"/>
<text transform="translate(571.20 95.20) rotate(-45)" font-size="6.2" fill="#333" text-anchor="end" stroke="#333">21</text>
<line x1="588.65" y1="86.30" x2="588.65" y2="88.60" stroke="#333" stroke-width="0.9"/>
<text transform="translate(591.45 95.20) rotate(-45)" font-size="6.2" fill="#333" text-anchor="end" stroke="#333">31</text>
<line x1="608.90" y1="86.30" x2="608.90" y2="88.60" stroke="#333" stroke-width="0.9"/>
<text transform="translate(611.70 95.20) rotate(-45)" font-size="6.2" fill="#333" text-anchor="end" stroke="#333">41</text>
<line x1="629.15" y1="86.30" x2="629.15" y2="88.60" stroke="#333" stroke-width="0.9"/>
<text transform="translate(631.95 95.20) rotate(-45)" font-size="6.2" fill="#333" text-anchor="end" stroke="#333">51</text>
<line x1="649.40" y1="86.30" x2="649.40" y2="88.60" stroke="#333" stroke-width="0.9"/>
<text transform="translate(652.20 95.20) rotate(-45)" font-size="6.2" fill="#333" text-anchor="end" stroke="#333">61</text>
<line x1="669.65" y1="86.30" x2="669.65" y2="88.60" stroke="#333" stroke-width="0.9"/>
<text transform="translate(672.45 95.20) rotate(-45)" font-size="6.2" fill="#333" text-anchor="end" stroke="#333">71</text>
<text x="591.3" y="108.0" font-size="6" fill="#333" stroke="#333">Residue</text>
<rect x="591.49" y="19.10" width="5.88" height="65.80" fill="none" stroke="#f0a6cb" stroke-width="0.8"/>
<rect x="599.39" y="19.10" width="10.73" height="65.80" fill="none" stroke="#c89dcc" stroke-width="0.8"/>
<text x="590.89" y="17.80" font-size="5.2" fill="#e98bbd" stroke="#e98bbd">LxV</text>
<text x="601.59" y="17.80" font-size="5.2" fill="#9c5aa4" stroke="#9c5aa4">IxIT</text>
<text x="500.2" y="112.7" font-size="12.2" fill="#111" stroke="#111">c</text>
<text x="525.2" y="118.6" font-size="6.4" fill="#222" stroke="#222">1 CLMB: 1 CNA</text>
<rect x="526.45" y="174.60" width="1.5" height="15.12" fill="#27a557"/>
<rect x="528.52" y="164.77" width="1.5" height="9.83" fill="#303030"/>
<rect x="530.59" y="174.60" width="1.5" height="7.56" fill="#e8232e"/>
<rect x="532.66" y="162.13" width="1.5" height="12.47" fill="#303030"/>
<rect x="534.73" y="174.60" width="1.5" height="7.56" fill="#e8232e"/>
<rect x="536.80" y="165.91" width="1.5" height="8.69" fill="#303030"/>
<rect x="538.87" y="174.60" width="1.5" height="7.56" fill="#e8232e"/>
<rect x="540.94" y="165.15" width="1.5" height="9.45" fill="#303030"/>
<rect x="543.01" y="174.60" width="1.5" height="7.56" fill="#3d62b6"/>
<rect x="545.08" y="165.91" width="1.5" height="8.69" fill="#303030"/>
<rect x="547.15" y="162.88" width="1.5" height="11.72" fill="#303030"/>
<rect x="549.22" y="159.10" width="1.5" height="15.50" fill="#303030"/>
<rect x="551.29" y="174.60" width="1.5" height="7.56" fill="#3d62b6"/>
<rect x="553.36" y="174.60" width="1.5" height="7.56" fill="#e8232e"/>
<rect x="555.43" y="163.64" width="1.5" height="10.96" fill="#303030"/>
<rect x="557.50" y="174.60" width="1.5" height="7.56" fill="#3d62b6"/>
<rect x="559.57" y="174.60" width="1.5" height="7.56" fill="#3d62b6"/>
<rect x="561.64" y="174.60" width="1.5" height="7.56" fill="#3d62b6"/>
<rect x="563.71" y="174.60" width="1.5" height="7.56" fill="#3d62b6"/>
<rect x="565.78" y="174.60" width="1.5" height="7.56" fill="#3d62b6"/>
<rect x="567.85" y="174.60" width="1.5" height="7.56" fill="#3d62b6"/>
<rect x="569.92" y="157.21" width="1.5" height="17.39" fill="#303030"/>
<rect x="571.99" y="153.43" width="1.5" height="21.17" fill="#303030"/>
<rect x="574.06" y="174.60" width="1.5" height="7.56" fill="#e8232e"/>
<rect x="576.13" y="157.21" width="1.5" height="17.39" fill="#303030"/>
<rect x="578.20" y="174.60" width="1.5" height="7.56" fill="#9a9a9a"/>
<rect x="580.27" y="160.61" width="1.5" height="13.99" fill="#303030"/>
<rect x="582.34" y="160.61" width="1.5" height="13.99" fill="#303030"/>
<rect x="584.41" y="174.60" width="1.5" height="7.56" fill="#e8232e"/>
<rect x="586.48" y="174.60" width="1.5" height="7.56" fill="#e8232e"/>
<rect x="588.55" y="174.60" width="1.5" height="15.12" fill="#27a557"/>
<rect x="590.62" y="174.60" width="1.5" height="15.12" fill="#27a557"/>
<rect x="592.69" y="174.60" width="1.5" height="15.12" fill="#ea80b8"/>
<rect x="594.76" y="166.66" width="1.5" height="7.94" fill="#ea80b8"/>
<rect x="596.83" y="174.60" width="1.5" height="15.12" fill="#ea80b8"/>
<rect x="598.90" y="174.60" width="1.5" height="7.56" fill="#9a9a9a"/>
<rect x="600.97" y="174.60" width="1.5" height="7.56" fill="#964a9a"/>
<rect x="611.32" y="174.60" width="1.5" height="7.56" fill="#9a9a9a"/>
<rect x="613.39" y="174.60" width="1.5" height="7.56" fill="#9a9a9a"/>
<rect x="615.46" y="174.60" width="1.5" height="15.12" fill="#27a557"/>
<rect x="617.53" y="174.60" width="1.5" height="7.56" fill="#9a9a9a"/>
<rect x="619.60" y="174.60" width="1.5" height="15.12" fill="#27a557"/>
<rect x="621.67" y="170.44" width="1.5" height="4.16" fill="#303030"/>
<rect x="623.74" y="166.66" width="1.5" height="7.94" fill="#303030"/>
<rect x="625.81" y="164.39" width="1.5" height="10.21" fill="#303030"/>
<rect x="627.88" y="167.04" width="1.5" height="7.56" fill="#303030"/>
<rect x="629.95" y="174.60" width="1.5" height="7.56" fill="#9a9a9a"/>
<rect x="632.02" y="174.60" width="1.5" height="7.56" fill="#e8232e"/>
<rect x="634.09" y="174.60" width="1.5" height="7.56" fill="#e8232e"/>
<rect x="636.16" y="171.58" width="1.5" height="3.02" fill="#303030"/>
<rect x="638.23" y="167.04" width="1.5" height="7.56" fill="#303030"/>
<rect x="640.30" y="167.42" width="1.5" height="7.18" fill="#303030"/>
<rect x="642.37" y="171.20" width="1.5" height="3.40" fill="#303030"/>
<rect x="644.44" y="170.44" width="1.5" height="4.16" fill="#303030"/>
<rect x="646.51" y="171.58" width="1.5" height="3.02" fill="#303030"/>
<rect x="648.58" y="174.60" width="1.5" height="15.12" fill="#27a557"/>
<rect x="650.65" y="162.13" width="1.5" height="12.47" fill="#303030"/>
<rect x="652.72" y="174.60" width="1.5" height="7.56" fill="#e8232e"/>
<rect x="654.79" y="167.42" width="1.5" height="7.18" fill="#303030"/>
<rect x="656.86" y="167.04" width="1.5" height="7.56" fill="#303030"/>
<rect x="658.93" y="160.99" width="1.5" height="13.61" fill="#303030"/>
<rect x="661.00" y="165.15" width="1.5" height="9.45" fill="#303030"/>
<rect x="663.07" y="174.60" width="1.5" height="7.56" fill="#9a9a9a"/>
<rect x="665.14" y="174.60" width="1.5" height="7.56" fill="#e8232e"/>
<rect x="667.21" y="174.60" width="1.5" height="7.56" fill="#e8232e"/>
<rect x="669.28" y="164.02" width="1.5" height="10.58" fill="#303030"/>
<rect x="671.35" y="164.02" width="1.5" height="10.58" fill="#303030"/>
<rect x="673.42" y="156.83" width="1.5" height="17.77" fill="#303030"/>
<rect x="675.49" y="168.17" width="1.5" height="6.43" fill="#303030"/>
<rect x="677.56" y="174.60" width="1.5" height="7.56" fill="#9a9a9a"/>
<rect x="679.63" y="154.94" width="1.5" height="19.66" fill="#303030"/>
<rect x="681.70" y="164.39" width="1.5" height="10.21" fill="#303030"/>
<rect x="602.85" y="174.60" width="1.3" height="15.12" fill="#964a9a"/>
<rect x="604.60" y="174.60" width="1.3" height="15.12" fill="#964a9a"/>
<rect x="606.40" y="174.60" width="1.3" height="15.12" fill="#964a9a"/>
<rect x="608.20" y="174.60" width="1.3" height="15.12" fill="#964a9a"/>
<rect x="609.65" y="174.60" width="1.3" height="15.12" fill="#964a9a"/>
<line x1="525.8" y1="128.74" x2="525.8" y2="194.10" stroke="#333" stroke-width="1"/>
<line x1="525.3" y1="174.60" x2="685" y2="174.60" stroke="#333" stroke-width="1"/>
<line x1="525.3" y1="193.60" x2="685" y2="193.60" stroke="#444" stroke-width="1"/>
<line x1="523.4" y1="129.24" x2="525.8" y2="129.24" stroke="#333" stroke-width="0.9"/>
<text x="522.5" y="131.74" font-size="6.3" fill="#333" text-anchor="end" stroke="#333">1.2</text>
<line x1="523.4" y1="144.36" x2="525.8" y2="144.36" stroke="#333" stroke-width="0.9"/>
<text x="522.5" y="146.86" font-size="6.3" fill="#333" text-anchor="end" stroke="#333">0.8</text>
<line x1="523.4" y1="159.48" x2="525.8" y2="159.48" stroke="#333" stroke-width="0.9"/>
<text x="522.5" y="161.98" font-size="6.3" fill="#333" text-anchor="end" stroke="#333">0.4</text>
<line x1="523.4" y1="174.60" x2="525.8" y2="174.60" stroke="#333" stroke-width="0.9"/>
<text x="522.5" y="177.10" font-size="6.3" fill="#333" text-anchor="end" stroke="#333">0.0</text>
<line x1="523.4" y1="189.72" x2="525.8" y2="189.72" stroke="#333" stroke-width="0.9"/>
<text x="522.5" y="192.22" font-size="6.3" fill="#333" text-anchor="end" stroke="#333">-0.4</text>
<text transform="translate(509.20 164.20) rotate(-90)" font-size="6.5" fill="#333" stroke="#333">I/I<tspan font-size="4.3" dy="0.7">0</tspan></text>
<line x1="527.20" y1="193.60" x2="527.20" y2="195.90" stroke="#333" stroke-width="0.9"/>
<text transform="translate(530.00 202.20) rotate(-45)" font-size="6.2" fill="#333" text-anchor="end" stroke="#333">1</text>
<line x1="547.90" y1="193.60" x2="547.90" y2="195.90" stroke="#333" stroke-width="0.9"/>
<text transform="translate(550.70 202.20) rotate(-45)" font-size="6.2" fill="#333" text-anchor="end" stroke="#333">11</text>
<line x1="568.60" y1="193.60" x2="568.60" y2="195.90" stroke="#333" stroke-width="0.9"/>
<text transform="translate(571.40 202.20) rotate(-45)" font-size="6.2" fill="#333" text-anchor="end" stroke="#333">21</text>
<line x1="589.30" y1="193.60" x2="589.30" y2="195.90" stroke="#333" stroke-width="0.9"/>
<text transform="translate(592.10 202.20) rotate(-45)" font-size="6.2" fill="#333" text-anchor="end" stroke="#333">31</text>
<line x1="610.00" y1="193.60" x2="610.00" y2="195.90" stroke="#333" stroke-width="0.9"/>
<text transform="translate(612.80 202.20) rotate(-45)" font-size="6.2" fill="#333" text-anchor="end" stroke="#333">41</text>
<line x1="630.70" y1="193.60" x2="630.70" y2="195.90" stroke="#333" stroke-width="0.9"/>
<text transform="translate(633.50 202.20) rotate(-45)" font-size="6.2" fill="#333" text-anchor="end" stroke="#333">51</text>
<line x1="651.40" y1="193.60" x2="651.40" y2="195.90" stroke="#333" stroke-width="0.9"/>
<text transform="translate(654.20 202.20) rotate(-45)" font-size="6.2" fill="#333" text-anchor="end" stroke="#333">61</text>
<line x1="672.10" y1="193.60" x2="672.10" y2="195.90" stroke="#333" stroke-width="0.9"/>
<text transform="translate(674.90 202.20) rotate(-45)" font-size="6.2" fill="#333" text-anchor="end" stroke="#333">71</text>
<text x="593.5" y="215.0" font-size="6" fill="#333" stroke="#333">Residue</text>
<rect x="592.21" y="125.60" width="6.01" height="65.72" fill="none" stroke="#f0a6cb" stroke-width="0.8"/>
<rect x="600.29" y="125.60" width="10.95" height="65.72" fill="none" stroke="#c89dcc" stroke-width="0.8"/>
<text x="591.61" y="124.30" font-size="5.2" fill="#e98bbd" stroke="#e98bbd">LxV</text>
<text x="602.49" y="124.30" font-size="5.2" fill="#9c5aa4" stroke="#9c5aa4">IxIT</text>
<text x="501.5" y="221.7" font-size="12.2" fill="#111" stroke="#111">d</text>
<text x="527.6" y="224.9" font-size="6.4" fill="#222" stroke="#222">2 CLMB: 1 CNA/B</text>
<rect x="526.15" y="280.60" width="1.5" height="15.44" fill="#27a557"/>
<rect x="528.21" y="274.04" width="1.5" height="6.56" fill="#303030"/>
<rect x="530.27" y="255.90" width="1.5" height="24.70" fill="#303030"/>
<rect x="532.33" y="262.84" width="1.5" height="17.76" fill="#303030"/>
<rect x="534.39" y="280.60" width="1.5" height="7.72" fill="#e8232e"/>
<rect x="536.45" y="280.60" width="1.5" height="15.44" fill="#27a557"/>
<rect x="538.51" y="280.60" width="1.5" height="7.72" fill="#e8232e"/>
<rect x="540.57" y="280.60" width="1.5" height="15.44" fill="#27a557"/>
<rect x="542.63" y="280.60" width="1.5" height="7.72" fill="#3d62b6"/>
<rect x="544.69" y="280.60" width="1.5" height="15.44" fill="#27a557"/>
<rect x="546.75" y="269.41" width="1.5" height="11.19" fill="#303030"/>
<rect x="548.81" y="280.60" width="1.5" height="15.44" fill="#27a557"/>
<rect x="550.87" y="280.60" width="1.5" height="7.72" fill="#3d62b6"/>
<rect x="552.93" y="280.60" width="1.5" height="15.44" fill="#27a557"/>
<rect x="554.99" y="280.60" width="1.5" height="15.44" fill="#27a557"/>
<rect x="557.05" y="280.60" width="1.5" height="7.72" fill="#3d62b6"/>
<rect x="559.11" y="280.60" width="1.5" height="7.72" fill="#3d62b6"/>
<rect x="561.17" y="280.60" width="1.5" height="7.72" fill="#3d62b6"/>
<rect x="563.23" y="280.60" width="1.5" height="7.72" fill="#3d62b6"/>
<rect x="565.29" y="280.60" width="1.5" height="7.72" fill="#3d62b6"/>
<rect x="567.35" y="280.60" width="1.5" height="7.72" fill="#3d62b6"/>
<rect x="569.41" y="280.60" width="1.5" height="15.44" fill="#27a557"/>
<rect x="571.47" y="257.83" width="1.5" height="22.77" fill="#303030"/>
<rect x="573.53" y="280.60" width="1.5" height="7.72" fill="#e8232e"/>
<rect x="575.59" y="244.70" width="1.5" height="35.90" fill="#303030"/>
<rect x="577.65" y="280.60" width="1.5" height="7.72" fill="#9a9a9a"/>
<rect x="579.71" y="251.65" width="1.5" height="28.95" fill="#303030"/>
<rect x="581.77" y="257.05" width="1.5" height="23.55" fill="#303030"/>
<rect x="583.83" y="280.60" width="1.5" height="7.72" fill="#e8232e"/>
<rect x="585.89" y="280.60" width="1.5" height="7.72" fill="#e8232e"/>
<rect x="587.95" y="257.44" width="1.5" height="23.16" fill="#303030"/>
<rect x="590.01" y="280.60" width="1.5" height="15.44" fill="#27a557"/>
<rect x="592.07" y="280.60" width="1.5" height="7.72" fill="#e8232e"/>
<rect x="594.13" y="264.77" width="1.5" height="15.83" fill="#ea80b8"/>
<rect x="596.19" y="268.25" width="1.5" height="12.35" fill="#ea80b8"/>
<rect x="598.25" y="280.60" width="1.5" height="7.72" fill="#9a9a9a"/>
<rect x="600.31" y="246.25" width="1.5" height="34.35" fill="#964a9a"/>
<rect x="602.37" y="269.02" width="1.5" height="11.58" fill="#964a9a"/>
<rect x="604.43" y="266.70" width="1.5" height="13.90" fill="#964a9a"/>
<rect x="606.49" y="270.18" width="1.5" height="10.42" fill="#964a9a"/>
<rect x="608.55" y="262.07" width="1.5" height="18.53" fill="#964a9a"/>
<rect x="610.61" y="280.60" width="1.5" height="7.72" fill="#9a9a9a"/>
<rect x="612.67" y="280.60" width="1.5" height="7.72" fill="#9a9a9a"/>
<rect x="614.73" y="266.32" width="1.5" height="14.28" fill="#303030"/>
<rect x="616.79" y="280.60" width="1.5" height="7.72" fill="#9a9a9a"/>
<rect x="618.85" y="268.25" width="1.5" height="12.35" fill="#303030"/>
<rect x="620.91" y="268.25" width="1.5" height="12.35" fill="#303030"/>
<rect x="622.97" y="264.00" width="1.5" height="16.60" fill="#303030"/>
<rect x="625.03" y="274.42" width="1.5" height="6.18" fill="#303030"/>
<rect x="627.09" y="259.76" width="1.5" height="20.84" fill="#303030"/>
<rect x="629.15" y="280.60" width="1.5" height="7.72" fill="#9a9a9a"/>
<rect x="631.21" y="280.60" width="1.5" height="7.72" fill="#e8232e"/>
<rect x="633.27" y="240.84" width="1.5" height="39.76" fill="#303030"/>
<rect x="635.33" y="280.60" width="1.5" height="7.72" fill="#e8232e"/>
<rect x="637.39" y="258.21" width="1.5" height="22.39" fill="#303030"/>
<rect x="639.45" y="257.83" width="1.5" height="22.77" fill="#303030"/>
<rect x="641.51" y="261.69" width="1.5" height="18.91" fill="#303030"/>
<rect x="643.57" y="257.05" width="1.5" height="23.55" fill="#303030"/>
<rect x="645.63" y="260.91" width="1.5" height="19.69" fill="#303030"/>
<rect x="647.69" y="261.69" width="1.5" height="18.91" fill="#303030"/>
<rect x="649.75" y="261.69" width="1.5" height="18.91" fill="#303030"/>
<rect x="651.81" y="252.04" width="1.5" height="28.56" fill="#303030"/>
<rect x="653.87" y="252.04" width="1.5" height="28.56" fill="#303030"/>
<rect x="655.93" y="248.56" width="1.5" height="32.04" fill="#303030"/>
<rect x="657.99" y="234.28" width="1.5" height="46.32" fill="#303030"/>
<rect x="658.14" y="230.05" width="1.2" height="1.1" fill="#e83a3a" opacity="0.8"/>
<rect x="660.05" y="265.16" width="1.5" height="15.44" fill="#303030"/>
<rect x="662.11" y="280.60" width="1.5" height="7.72" fill="#9a9a9a"/>
<rect x="664.17" y="280.60" width="1.5" height="7.72" fill="#e8232e"/>
<rect x="666.23" y="280.60" width="1.5" height="7.72" fill="#e8232e"/>
<rect x="668.29" y="234.28" width="1.5" height="46.32" fill="#303030"/>
<rect x="668.44" y="230.05" width="1.2" height="1.1" fill="#e83a3a" opacity="0.8"/>
<rect x="670.35" y="235.82" width="1.5" height="44.78" fill="#303030"/>
<rect x="670.50" y="230.05" width="1.2" height="1.1" fill="#e83a3a" opacity="0.8"/>
<rect x="672.41" y="242.77" width="1.5" height="37.83" fill="#303030"/>
<rect x="674.47" y="242.77" width="1.5" height="37.83" fill="#303030"/>
<rect x="676.53" y="280.60" width="1.5" height="7.72" fill="#9a9a9a"/>
<rect x="678.59" y="280.60" width="1.5" height="7.72" fill="#e8232e"/>
<rect x="680.65" y="240.07" width="1.5" height="40.53" fill="#303030"/>
<rect x="680.80" y="230.05" width="1.2" height="1.1" fill="#e83a3a" opacity="0.8"/>
<line x1="525.8" y1="233.78" x2="525.8" y2="300.10" stroke="#333" stroke-width="1"/>
<line x1="525.3" y1="280.60" x2="685" y2="280.60" stroke="#333" stroke-width="1"/>
<line x1="525.3" y1="299.60" x2="685" y2="299.60" stroke="#444" stroke-width="1"/>
<line x1="523.4" y1="234.28" x2="525.8" y2="234.28" stroke="#333" stroke-width="0.9"/>
<text x="522.5" y="236.78" font-size="6.3" fill="#333" text-anchor="end" stroke="#333">1.2</text>
<line x1="523.4" y1="249.72" x2="525.8" y2="249.72" stroke="#333" stroke-width="0.9"/>
<text x="522.5" y="252.22" font-size="6.3" fill="#333" text-anchor="end" stroke="#333">0.8</text>
<line x1="523.4" y1="265.16" x2="525.8" y2="265.16" stroke="#333" stroke-width="0.9"/>
<text x="522.5" y="267.66" font-size="6.3" fill="#333" text-anchor="end" stroke="#333">0.4</text>
<line x1="523.4" y1="280.60" x2="525.8" y2="280.60" stroke="#333" stroke-width="0.9"/>
<text x="522.5" y="283.10" font-size="6.3" fill="#333" text-anchor="end" stroke="#333">0.0</text>
<line x1="523.4" y1="296.04" x2="525.8" y2="296.04" stroke="#333" stroke-width="0.9"/>
<text x="522.5" y="298.54" font-size="6.3" fill="#333" text-anchor="end" stroke="#333">-0.4</text>
<text transform="translate(509.20 270.20) rotate(-90)" font-size="6.5" fill="#333" stroke="#333">I/I<tspan font-size="4.3" dy="0.7">0</tspan></text>
<line x1="526.90" y1="299.60" x2="526.90" y2="301.90" stroke="#333" stroke-width="0.9"/>
<text transform="translate(528.10 310.50) rotate(-45)" font-size="6.2" fill="#333" text-anchor="end" stroke="#333">1</text>
<line x1="547.50" y1="299.60" x2="547.50" y2="301.90" stroke="#333" stroke-width="0.9"/>
<text transform="translate(548.70 310.50) rotate(-45)" font-size="6.2" fill="#333" text-anchor="end" stroke="#333">11</text>
<line x1="568.10" y1="299.60" x2="568.10" y2="301.90" stroke="#333" stroke-width="0.9"/>
<text transform="translate(569.30 310.50) rotate(-45)" font-size="6.2" fill="#333" text-anchor="end" stroke="#333">21</text>
<line x1="588.70" y1="299.60" x2="588.70" y2="301.90" stroke="#333" stroke-width="0.9"/>
<text transform="translate(589.90 310.50) rotate(-45)" font-size="6.2" fill="#333" text-anchor="end" stroke="#333">31</text>
<line x1="609.30" y1="299.60" x2="609.30" y2="301.90" stroke="#333" stroke-width="0.9"/>
<text transform="translate(610.50 310.50) rotate(-45)" font-size="6.2" fill="#333" text-anchor="end" stroke="#333">41</text>
<line x1="629.90" y1="299.60" x2="629.90" y2="301.90" stroke="#333" stroke-width="0.9"/>
<text transform="translate(631.10 310.50) rotate(-45)" font-size="6.2" fill="#333" text-anchor="end" stroke="#333">51</text>
<line x1="650.50" y1="299.60" x2="650.50" y2="301.90" stroke="#333" stroke-width="0.9"/>
<text transform="translate(651.70 310.50) rotate(-45)" font-size="6.2" fill="#333" text-anchor="end" stroke="#333">61</text>
<line x1="671.10" y1="299.60" x2="671.10" y2="301.90" stroke="#333" stroke-width="0.9"/>
<text transform="translate(672.30 310.50) rotate(-45)" font-size="6.2" fill="#333" text-anchor="end" stroke="#333">71</text>
<text x="580.8" y="321.5" font-size="6" fill="#333" stroke="#333">Residue</text>
<rect x="591.59" y="231.80" width="5.98" height="65.84" fill="none" stroke="#f0a6cb" stroke-width="0.8"/>
<rect x="599.63" y="231.80" width="10.90" height="65.84" fill="none" stroke="#c89dcc" stroke-width="0.8"/>
<text x="590.99" y="230.50" font-size="5.2" fill="#e98bbd" stroke="#e98bbd">LxV</text>
<text x="601.83" y="230.50" font-size="5.2" fill="#9c5aa4" stroke="#9c5aa4">IxIT</text>
<text x="500.2" y="328.7" font-size="12.2" fill="#111" stroke="#111">e</text>
<text x="525.2" y="331.9" font-size="6.4" fill="#222" stroke="#222">1 CLMB: 1 CNA/B</text>
<rect x="526.35" y="387.50" width="1.5" height="14.92" fill="#27a557"/>
<rect x="528.42" y="387.50" width="1.5" height="14.92" fill="#27a557"/>
<rect x="530.49" y="368.10" width="1.5" height="19.40" fill="#303030"/>
<rect x="532.56" y="376.31" width="1.5" height="11.19" fill="#303030"/>
<rect x="534.63" y="387.50" width="1.5" height="7.46" fill="#e8232e"/>
<rect x="536.70" y="387.50" width="1.5" height="14.92" fill="#27a557"/>
<rect x="538.77" y="387.50" width="1.5" height="7.46" fill="#e8232e"/>
<rect x="540.84" y="387.50" width="1.5" height="14.92" fill="#27a557"/>
<rect x="542.91" y="387.50" width="1.5" height="7.46" fill="#3d62b6"/>
<rect x="544.98" y="387.50" width="1.5" height="14.92" fill="#27a557"/>
<rect x="547.05" y="387.50" width="1.5" height="14.92" fill="#27a557"/>
<rect x="549.12" y="387.50" width="1.5" height="14.92" fill="#27a557"/>
<rect x="551.19" y="387.50" width="1.5" height="7.46" fill="#3d62b6"/>
<rect x="553.26" y="387.50" width="1.5" height="14.92" fill="#27a557"/>
<rect x="555.33" y="387.50" width="1.5" height="14.92" fill="#27a557"/>
<rect x="557.40" y="387.50" width="1.5" height="7.46" fill="#3d62b6"/>
<rect x="559.47" y="387.50" width="1.5" height="7.46" fill="#3d62b6"/>
<rect x="561.54" y="387.50" width="1.5" height="7.46" fill="#3d62b6"/>
<rect x="563.61" y="387.50" width="1.5" height="7.46" fill="#3d62b6"/>
<rect x="565.68" y="387.50" width="1.5" height="7.46" fill="#3d62b6"/>
<rect x="567.75" y="387.50" width="1.5" height="7.46" fill="#3d62b6"/>
<rect x="569.82" y="387.50" width="1.5" height="14.92" fill="#27a557"/>
<rect x="571.89" y="387.50" width="1.5" height="7.46" fill="#e8232e"/>
<rect x="573.96" y="387.50" width="1.5" height="7.46" fill="#e8232e"/>
<rect x="576.03" y="365.12" width="1.5" height="22.38" fill="#303030"/>
<rect x="578.10" y="387.50" width="1.5" height="7.46" fill="#9a9a9a"/>
<rect x="580.17" y="387.50" width="1.5" height="7.46" fill="#e8232e"/>
<rect x="582.24" y="373.14" width="1.5" height="14.36" fill="#303030"/>
<rect x="584.31" y="387.50" width="1.5" height="7.46" fill="#e8232e"/>
<rect x="586.38" y="387.50" width="1.5" height="7.46" fill="#e8232e"/>
<rect x="588.45" y="375.94" width="1.5" height="11.56" fill="#303030"/>
<rect x="590.52" y="387.50" width="1.5" height="14.92" fill="#27a557"/>
<rect x="594.66" y="374.44" width="1.5" height="13.05" fill="#ea80b8"/>
<rect x="596.73" y="387.50" width="1.5" height="14.92" fill="#ea80b8"/>
<rect x="598.80" y="387.50" width="1.5" height="7.46" fill="#9a9a9a"/>
<rect x="600.87" y="387.50" width="1.5" height="7.46" fill="#964a9a"/>
<rect x="602.94" y="387.50" width="1.5" height="14.92" fill="#964a9a"/>
<rect x="605.01" y="387.50" width="1.5" height="14.92" fill="#964a9a"/>
<rect x="607.08" y="383.02" width="1.5" height="4.48" fill="#964a9a"/>
<rect x="609.15" y="387.50" width="1.5" height="14.92" fill="#964a9a"/>
<rect x="611.22" y="387.50" width="1.5" height="7.46" fill="#9a9a9a"/>
<rect x="613.29" y="387.50" width="1.5" height="7.46" fill="#9a9a9a"/>
<rect x="615.36" y="387.50" width="1.5" height="14.92" fill="#27a557"/>
<rect x="617.43" y="387.50" width="1.5" height="7.46" fill="#9a9a9a"/>
<rect x="619.50" y="387.50" width="1.5" height="14.92" fill="#27a557"/>
<rect x="621.57" y="387.50" width="1.5" height="14.92" fill="#27a557"/>
<rect x="623.64" y="380.41" width="1.5" height="7.09" fill="#303030"/>
<rect x="625.71" y="387.50" width="1.5" height="7.46" fill="#e8232e"/>
<rect x="627.78" y="377.43" width="1.5" height="10.07" fill="#303030"/>
<rect x="629.85" y="387.50" width="1.5" height="7.46" fill="#9a9a9a"/>
<rect x="631.92" y="387.50" width="1.5" height="7.46" fill="#e8232e"/>
<rect x="633.99" y="387.50" width="1.5" height="7.46" fill="#e8232e"/>
<rect x="636.06" y="384.14" width="1.5" height="3.36" fill="#303030"/>
<rect x="638.13" y="375.19" width="1.5" height="12.31" fill="#303030"/>
<rect x="640.20" y="380.04" width="1.5" height="7.46" fill="#303030"/>
<rect x="642.27" y="381.16" width="1.5" height="6.34" fill="#303030"/>
<rect x="644.34" y="378.18" width="1.5" height="9.32" fill="#303030"/>
<rect x="646.41" y="380.04" width="1.5" height="7.46" fill="#303030"/>
<rect x="648.48" y="381.53" width="1.5" height="5.97" fill="#303030"/>
<rect x="650.55" y="377.43" width="1.5" height="10.07" fill="#303030"/>
<rect x="652.62" y="386.30" width="1.5" height="1.2" fill="#e8232e"/>
<rect x="654.69" y="374.82" width="1.5" height="12.68" fill="#303030"/>
<rect x="656.76" y="371.09" width="1.5" height="16.41" fill="#303030"/>
<rect x="658.83" y="364.00" width="1.5" height="23.50" fill="#303030"/>
<rect x="660.90" y="387.50" width="1.5" height="7.46" fill="#e8232e"/>
<rect x="662.97" y="387.50" width="1.5" height="7.46" fill="#9a9a9a"/>
<rect x="665.04" y="387.50" width="1.5" height="7.46" fill="#e8232e"/>
<rect x="667.11" y="387.50" width="1.5" height="7.46" fill="#e8232e"/>
<rect x="669.18" y="350.20" width="1.5" height="37.30" fill="#303030"/>
<rect x="671.25" y="349.08" width="1.5" height="38.42" fill="#303030"/>
<rect x="673.32" y="351.69" width="1.5" height="35.81" fill="#303030"/>
<rect x="675.39" y="359.52" width="1.5" height="27.97" fill="#303030"/>
<rect x="677.46" y="387.50" width="1.5" height="7.46" fill="#9a9a9a"/>
<rect x="679.53" y="387.50" width="1.5" height="7.46" fill="#e8232e"/>
<rect x="681.60" y="351.69" width="1.5" height="35.81" fill="#303030"/>
<line x1="525.8" y1="342.24" x2="525.8" y2="406.50" stroke="#333" stroke-width="1"/>
<line x1="525.3" y1="387.50" x2="685" y2="387.50" stroke="#333" stroke-width="1"/>
<line x1="525.3" y1="406.00" x2="685" y2="406.00" stroke="#444" stroke-width="1"/>
<line x1="523.4" y1="342.74" x2="525.8" y2="342.74" stroke="#333" stroke-width="0.9"/>
<text x="522.5" y="345.24" font-size="6.3" fill="#333" text-anchor="end" stroke="#333">1.2</text>
<line x1="523.4" y1="357.66" x2="525.8" y2="357.66" stroke="#333" stroke-width="0.9"/>
<text x="522.5" y="360.16" font-size="6.3" fill="#333" text-anchor="end" stroke="#333">0.8</text>
<line x1="523.4" y1="372.58" x2="525.8" y2="372.58" stroke="#333" stroke-width="0.9"/>
<text x="522.5" y="375.08" font-size="6.3" fill="#333" text-anchor="end" stroke="#333">0.4</text>
<line x1="523.4" y1="387.50" x2="525.8" y2="387.50" stroke="#333" stroke-width="0.9"/>
<text x="522.5" y="390.00" font-size="6.3" fill="#333" text-anchor="end" stroke="#333">0.0</text>
<line x1="523.4" y1="402.42" x2="525.8" y2="402.42" stroke="#333" stroke-width="0.9"/>
<text x="522.5" y="404.92" font-size="6.3" fill="#333" text-anchor="end" stroke="#333">-0.4</text>
<text transform="translate(509.20 377.10) rotate(-90)" font-size="6.5" fill="#333" stroke="#333">I/I<tspan font-size="4.3" dy="0.7">0</tspan></text>
<line x1="527.10" y1="406.00" x2="527.10" y2="408.30" stroke="#333" stroke-width="0.9"/>
<text transform="translate(529.90 416.40) rotate(-45)" font-size="6.2" fill="#333" text-anchor="end" stroke="#333">1</text>
<line x1="547.80" y1="406.00" x2="547.80" y2="408.30" stroke="#333" stroke-width="0.9"/>
<text transform="translate(550.60 416.40) rotate(-45)" font-size="6.2" fill="#333" text-anchor="end" stroke="#333">11</text>
<line x1="568.50" y1="406.00" x2="568.50" y2="408.30" stroke="#333" stroke-width="0.9"/>
<text transform="translate(571.30 416.40) rotate(-45)" font-size="6.2" fill="#333" text-anchor="end" stroke="#333">21</text>
<line x1="589.20" y1="406.00" x2="589.20" y2="408.30" stroke="#333" stroke-width="0.9"/>
<text transform="translate(592.00 416.40) rotate(-45)" font-size="6.2" fill="#333" text-anchor="end" stroke="#333">31</text>
<line x1="609.90" y1="406.00" x2="609.90" y2="408.30" stroke="#333" stroke-width="0.9"/>
<text transform="translate(612.70 416.40) rotate(-45)" font-size="6.2" fill="#333" text-anchor="end" stroke="#333">41</text>
<line x1="630.60" y1="406.00" x2="630.60" y2="408.30" stroke="#333" stroke-width="0.9"/>
<text transform="translate(633.40 416.40) rotate(-45)" font-size="6.2" fill="#333" text-anchor="end" stroke="#333">51</text>
<line x1="651.30" y1="406.00" x2="651.30" y2="408.30" stroke="#333" stroke-width="0.9"/>
<text transform="translate(654.10 416.40) rotate(-45)" font-size="6.2" fill="#333" text-anchor="end" stroke="#333">61</text>
<line x1="672.00" y1="406.00" x2="672.00" y2="408.30" stroke="#333" stroke-width="0.9"/>
<text transform="translate(674.80 416.40) rotate(-45)" font-size="6.2" fill="#333" text-anchor="end" stroke="#333">71</text>
<text x="593.5" y="428.2" font-size="6" fill="#333" stroke="#333">Residue</text>
<rect x="592.11" y="338.00" width="6.01" height="66.02" fill="none" stroke="#f0a6cb" stroke-width="0.8"/>
<rect x="600.19" y="338.00" width="10.95" height="66.02" fill="none" stroke="#c89dcc" stroke-width="0.8"/>
<text x="591.50" y="336.70" font-size="5.2" fill="#e98bbd" stroke="#e98bbd">LxV</text>
<text x="602.39" y="336.70" font-size="5.2" fill="#9c5aa4" stroke="#9c5aa4">IxIT</text>
</g></svg></div></body></html>
